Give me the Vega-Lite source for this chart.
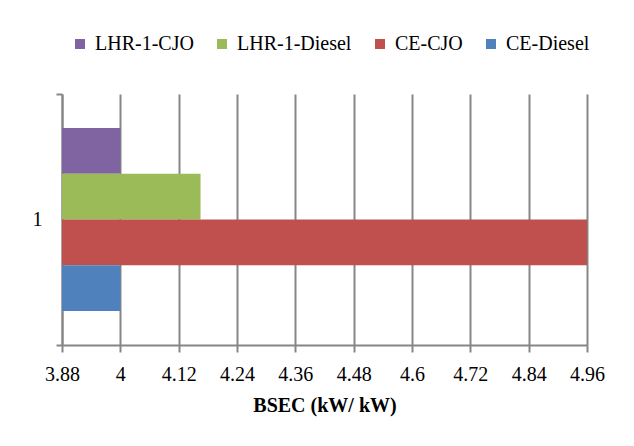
{
  "$schema": "https://vega.github.io/schema/vega-lite/v6.json",
  "autosize": "none",
  "width": 525,
  "height": 251,
  "padding": {"left": 62, "top": 94, "right": 47, "bottom": 101},
  "background": "white",
  "config": {
    "view": {"stroke": null},
    "font": "Liberation Serif"
  },
  "data": {
    "values": [
      {"cat": "1", "series": "LHR-1-CJO", "value": 4.0},
      {"cat": "1", "series": "LHR-1-Diesel", "value": 4.165},
      {"cat": "1", "series": "CE-CJO", "value": 4.96},
      {"cat": "1", "series": "CE-Diesel", "value": 4.0}
    ]
  },
  "mark": {"type": "bar", "clip": true},
  "encoding": {
    "y": {
      "field": "cat",
      "type": "nominal",
      "scale": {"paddingInner": 0, "paddingOuter": 0},
      "axis": {
        "title": null,
        "labelAngle": 0,
        "labelFontSize": 20,
        "labelColor": "#000000",
        "labelPadding": 14,
        "tickBand": "extent",
        "tickSize": 6,
        "tickColor": "#868686",
        "tickWidth": 2,
        "domainColor": "#868686",
        "domainWidth": 2
      }
    },
    "yOffset": {
      "field": "series",
      "type": "nominal",
      "sort": ["LHR-1-CJO", "LHR-1-Diesel", "CE-CJO", "CE-Diesel"],
      "scale": {"paddingInner": 0, "paddingOuter": 0.743}
    },
    "x": {
      "field": "value",
      "type": "quantitative",
      "scale": {"domain": [3.88, 4.96], "nice": false, "zero": false},
      "axis": {
        "title": "BSEC (kW/ kW)",
        "titleFontSize": 20,
        "titleFontWeight": "bold",
        "titleColor": "#000000",
        "titlePadding": 11,
        "values": [3.88, 4.0, 4.12, 4.24, 4.36, 4.48, 4.6, 4.72, 4.84, 4.96],
        "format": ".3~g",
        "labelFontSize": 20,
        "labelColor": "#000000",
        "labelPadding": 12,
        "labelFlush": false,
        "labelOverlap": false,
        "tickSize": 7,
        "tickColor": "#868686",
        "tickWidth": 2,
        "domainColor": "#868686",
        "domainWidth": 2,
        "grid": true,
        "gridColor": "#868686",
        "gridWidth": 2
      }
    },
    "x2": {"datum": 3.88},
    "color": {
      "field": "series",
      "type": "nominal",
      "scale": {
        "domain": ["LHR-1-CJO", "LHR-1-Diesel", "CE-CJO", "CE-Diesel"],
        "range": ["#8064A2", "#9BBB59", "#C0504D", "#4F81BD"]
      },
      "legend": {
        "title": null,
        "orient": "none",
        "legendX": 8,
        "legendY": -60,
        "direction": "horizontal",
        "symbolType": "square",
        "symbolSize": 100,
        "symbolStrokeWidth": 0,
        "symbolOpacity": 1,
        "labelFontSize": 20,
        "labelColor": "#000000",
        "labelOffset": 5,
        "columnPadding": 18
      }
    }
  }
}
